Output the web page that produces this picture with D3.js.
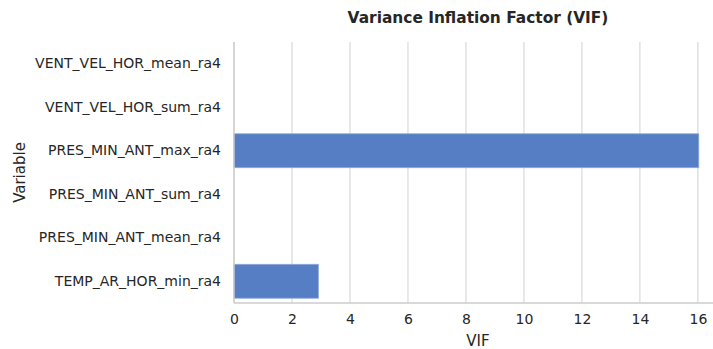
<html>
    <head>
        <style>
            body { margin: 0; background: #fff; }
            text { font-family: 'DejaVu Sans', sans-serif; fill: #262626; }
        </style>
        <script src="https://cdnjs.cloudflare.com/ajax/libs/d3/7.8.5/d3.min.js"></script>
    </head>
    <body>
        <script>
            const variables = [
                'VENT_VEL_HOR_mean_ra4',
                'VENT_VEL_HOR_sum_ra4',
                'PRES_MIN_ANT_max_ra4',
                'PRES_MIN_ANT_sum_ra4',
                'PRES_MIN_ANT_mean_ra4',
                'TEMP_AR_HOR_min_ra4'
            ];
            const vifValues = [0, 0, 16.03, 0, 0, 2.91];
            const xTicks = [0, 2, 4, 6, 8, 10, 12, 14, 16];

            const width = 713;
            const height = 349;
            // plot area (right side runs past the window, like the original)
            const plot = { left: 234, right: 722, top: 42, bottom: 303 };

            const svg = d3.select('body').append('svg')
                .attr('width', width)
                .attr('height', height);

            const x = d3.scaleLinear()
                .domain([0, d3.max(vifValues) * 1.05])
                .range([plot.left, plot.right]);

            const y = d3.scaleBand()
                .domain(variables)
                .range([plot.top, plot.bottom])
                .paddingInner(0.22)
                .paddingOuter(0.11);

            // grid lines
            svg.append('g')
                .selectAll('line')
                .data(xTicks)
                .enter().append('line')
                .attr('x1', d => x(d)).attr('x2', d => x(d))
                .attr('y1', plot.top).attr('y2', plot.bottom)
                .style('stroke', '#d9d9d9')
                .style('stroke-width', 1.2);

            // bars
            svg.append('g')
                .selectAll('rect')
                .data(variables)
                .enter().append('rect')
                .attr('x', x(0))
                .attr('y', d => y(d))
                .attr('width', (d, i) => x(vifValues[i]) - x(0))
                .attr('height', y.bandwidth())
                .style('fill', '#557ec4')
                .style('stroke', '#8eaadb')
                .style('stroke-width', 0.8);

            // spines
            svg.append('line')
                .attr('x1', plot.left).attr('x2', plot.left)
                .attr('y1', plot.top).attr('y2', plot.bottom)
                .style('stroke', '#cccccc').style('stroke-width', 1.3);
            svg.append('line')
                .attr('x1', plot.left).attr('x2', plot.right)
                .attr('y1', plot.bottom).attr('y2', plot.bottom)
                .style('stroke', '#cccccc').style('stroke-width', 1.3);

            // x axis ticks
            const xAxis = d3.axisBottom(x).tickValues(xTicks).tickSize(0).tickPadding(11);
            const gx = svg.append('g')
                .attr('transform', `translate(0, ${plot.bottom})`)
                .call(xAxis);
            gx.select('.domain').remove();
            gx.selectAll('text')
                .attr('font-size', 14)
                .attr('font-family', 'DejaVu Sans')
                .style('fill', '#262626');

            // y axis ticks
            const yAxis = d3.axisLeft(y).tickSize(0).tickPadding(13);
            const gy = svg.append('g')
                .attr('transform', `translate(${plot.left}, 0)`)
                .call(yAxis);
            gy.select('.domain').remove();
            gy.selectAll('text')
                .attr('font-size', 14)
                .attr('font-family', 'DejaVu Sans')
                .style('fill', '#262626');

            // title and labels
            svg.append('text')
                .text('Variance Inflation Factor (VIF)')
                .attr('x', (plot.left + plot.right) / 2)
                .attr('y', 23)
                .attr('text-anchor', 'middle')
                .attr('font-size', 15.4)
                .attr('font-weight', 'bold');

            svg.append('text')
                .text('VIF')
                .attr('x', (plot.left + plot.right) / 2)
                .attr('y', 346)
                .attr('text-anchor', 'middle')
                .attr('font-size', 15);

            svg.append('text')
                .text('Variable')
                .attr('transform', `translate(25, ${(plot.top + plot.bottom) / 2}) rotate(-90)`)
                .attr('text-anchor', 'middle')
                .attr('font-size', 15);
        </script>
    </body>
</html>
